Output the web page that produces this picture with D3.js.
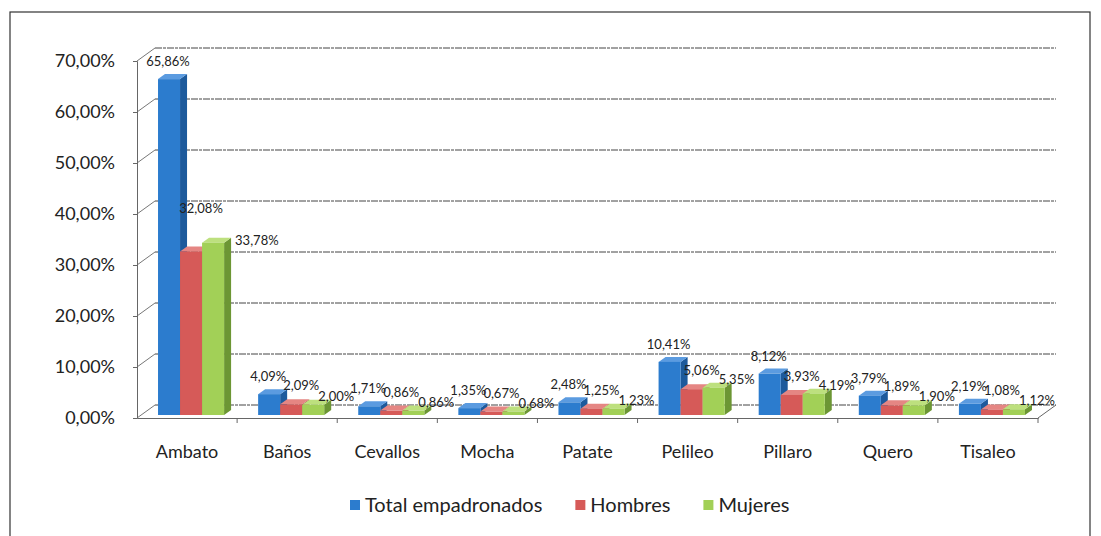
<!DOCTYPE html>
<html>
<head>
<meta charset="utf-8">
<script src="https://cdnjs.cloudflare.com/ajax/libs/d3/7.8.5/d3.min.js"></script>
<style>
  body { margin: 0; background: #fff; }
  svg { display: block; font-family: Lato, "DejaVu Sans", sans-serif; }
</style>
</head>
<body>
<script>
// data
var categories = ["Ambato", "Baños", "Cevallos", "Mocha", "Patate", "Pelileo", "Pillaro", "Quero", "Tisaleo"];
var seriesNames = ["Total empadronados", "Hombres", "Mujeres"];
var total   = [65.86, 4.09, 1.71, 1.35, 2.48, 10.41, 8.12, 3.79, 2.19];
var hombres = [32.08, 2.09, 0.86, 0.67, 1.25, 5.06, 3.93, 1.89, 1.08];
var mujeres = [33.78, 2.00, 0.86, 0.68, 1.23, 5.35, 4.19, 1.90, 1.12];
var yTicks  = [0, 10, 20, 30, 40, 50, 60, 70];

var values = [total, hombres, mujeres];
// front, side, top colours per series
var colors = [
  ["#2c7cce", "#1d5a9c", "#5b9be0"],
  ["#d65a58", "#a33e3c", "#e58683"],
  ["#a2d057", "#6c9634", "#bde07e"]
];

var W = 1101, H = 536;
var svg = d3.select("body").append("svg").attr("width", W).attr("height", H);

// frame round the chart
svg.append("rect").attr("x", 10).attr("y", 12).attr("width", 1080).attr("height", 560)
  .attr("fill", "none").attr("stroke", "#333").attr("stroke-width", 1.2);

var x = d3.scaleBand().domain(categories).range([137, 1038]).paddingInner(0.34).paddingOuter(0.17);
var xs = d3.scaleBand().domain(d3.range(3)).range([0, x.bandwidth()]);
var y = d3.scaleLinear().domain([0, 70]).range([418, 61]);

// 3d offsets: back wall, bar front position, bar depth
var wall = {dx: 18, dy: -13};
var bf = {dx: 4, dy: -3};
var bd = {dx: 7, dy: -5};

var g = svg.append("g");

// back wall gridlines and side wall diagonals
yTicks.forEach(function(t) {
  g.append("line")
    .attr("x1", 137 + wall.dx).attr("x2", 1038 + wall.dx)
    .attr("y1", y(t) + wall.dy).attr("y2", y(t) + wall.dy)
    .attr("stroke", "#444").attr("stroke-width", 1).attr("stroke-dasharray", "7,1,3,1");
  g.append("line")
    .attr("x1", 137).attr("y1", y(t))
    .attr("x2", 137 + wall.dx).attr("y2", y(t) + wall.dy)
    .attr("stroke", "#777").attr("stroke-width", 1);
});

// floor right edge
g.append("line").attr("x1", 1038).attr("y1", y(0)).attr("x2", 1038 + wall.dx).attr("y2", y(0) + wall.dy)
  .attr("stroke", "#666");

// y axis
var yAxis = d3.axisLeft(y).tickValues(yTicks).tickSize(4).tickPadding(18)
  .tickFormat(function(d) { return d3.format(".2f")(d).replace(".", ",") + "%"; });
var ya = svg.append("g").attr("transform", "translate(137,0)").call(yAxis);
ya.select(".domain").attr("stroke", "#666");
ya.selectAll(".tick line").attr("stroke", "#666");
ya.selectAll("text").attr("font-size", 18).attr("fill", "#222").attr("font-family", "Lato");

// x axis
var xAxis = d3.axisBottom(x).tickSize(0).tickPadding(27);
var xa = svg.append("g").attr("transform", "translate(0," + y(0) + ")").call(xAxis);
xa.select(".domain").attr("stroke", "#666");
xa.selectAll("text").attr("font-size", 18).attr("fill", "#222").attr("font-family", "Lato");
// category boundary ticks
xa.selectAll(".bound").data(d3.range(1, categories.length + 1)).enter().append("line")
  .attr("x1", function(i) { return x.range()[0] + x.step() * i; })
  .attr("x2", function(i) { return x.range()[0] + x.step() * i; })
  .attr("y1", 0).attr("y2", 5).attr("stroke", "#666");

// bars
var bars = svg.append("g");
categories.forEach(function(c, ci) {
  values.forEach(function(vals, si) {
    var v = vals[ci];
    var x0 = x(c) + xs(si) + bf.dx;
    var w = xs.bandwidth();
    var yb = y(0) + bf.dy, yt = y(v) + bf.dy;
    var col = colors[si];
    // side
    bars.append("path")
      .attr("d", "M" + (x0 + w) + "," + yt + "L" + (x0 + w + bd.dx) + "," + (yt + bd.dy) +
        "L" + (x0 + w + bd.dx) + "," + (yb + bd.dy) + "L" + (x0 + w) + "," + yb + "Z")
      .attr("fill", col[1]);
    // top
    bars.append("path")
      .attr("d", "M" + x0 + "," + yt + "L" + (x0 + bd.dx) + "," + (yt + bd.dy) +
        "L" + (x0 + w + bd.dx) + "," + (yt + bd.dy) + "L" + (x0 + w) + "," + yt + "Z")
      .attr("fill", col[2]);
    // front
    bars.append("rect").attr("x", x0).attr("y", yt).attr("width", w).attr("height", yb - yt)
      .attr("fill", col[0]);
  });
});

// data labels: short bars get labels stacked above, tall bars get them beside the top
var labelDx = [-1, 10, 23];
var labelDy = [-21, -22, -12];
var labels = svg.append("g");
categories.forEach(function(c, ci) {
  values.forEach(function(vals, si) {
    var v = vals[ci];
    var bx = x(c) + xs(si) + bf.dx;
    var cx = bx + xs.bandwidth() / 2 + labelDx[si];
    var cy = y(v) + labelDy[si];
    var anchor = "middle";
    if (v > 20 && si === 1) { cy = y(v) - 46; cx = bx + xs.bandwidth() / 2 + 10; }
    if (v > 20 && si === 2) { cy = y(v) - 6; cx = bx + xs.bandwidth() + bd.dx + 4; anchor = "start"; }
    labels.append("text")
      .attr("x", cx).attr("y", cy + 5)
      .attr("text-anchor", anchor)
      .attr("font-size", 13).attr("fill", "#222")
      .text(d3.format(".2f")(v).replace(".", ",") + "%");
  });
});

// legend
var leg = svg.append("g").attr("transform", "translate(350,505)");
var lx = 0;
seriesNames.forEach(function(name, si) {
  leg.append("rect").attr("x", lx).attr("y", -5).attr("width", 10).attr("height", 10).attr("fill", colors[si][0]);
  var t = leg.append("text").attr("x", lx + 15).attr("y", 7).attr("font-size", 20).attr("fill", "#222").text(name);
  lx += 15 + t.node().getComputedTextLength() + 33;
});
</script>
</body>
</html>
